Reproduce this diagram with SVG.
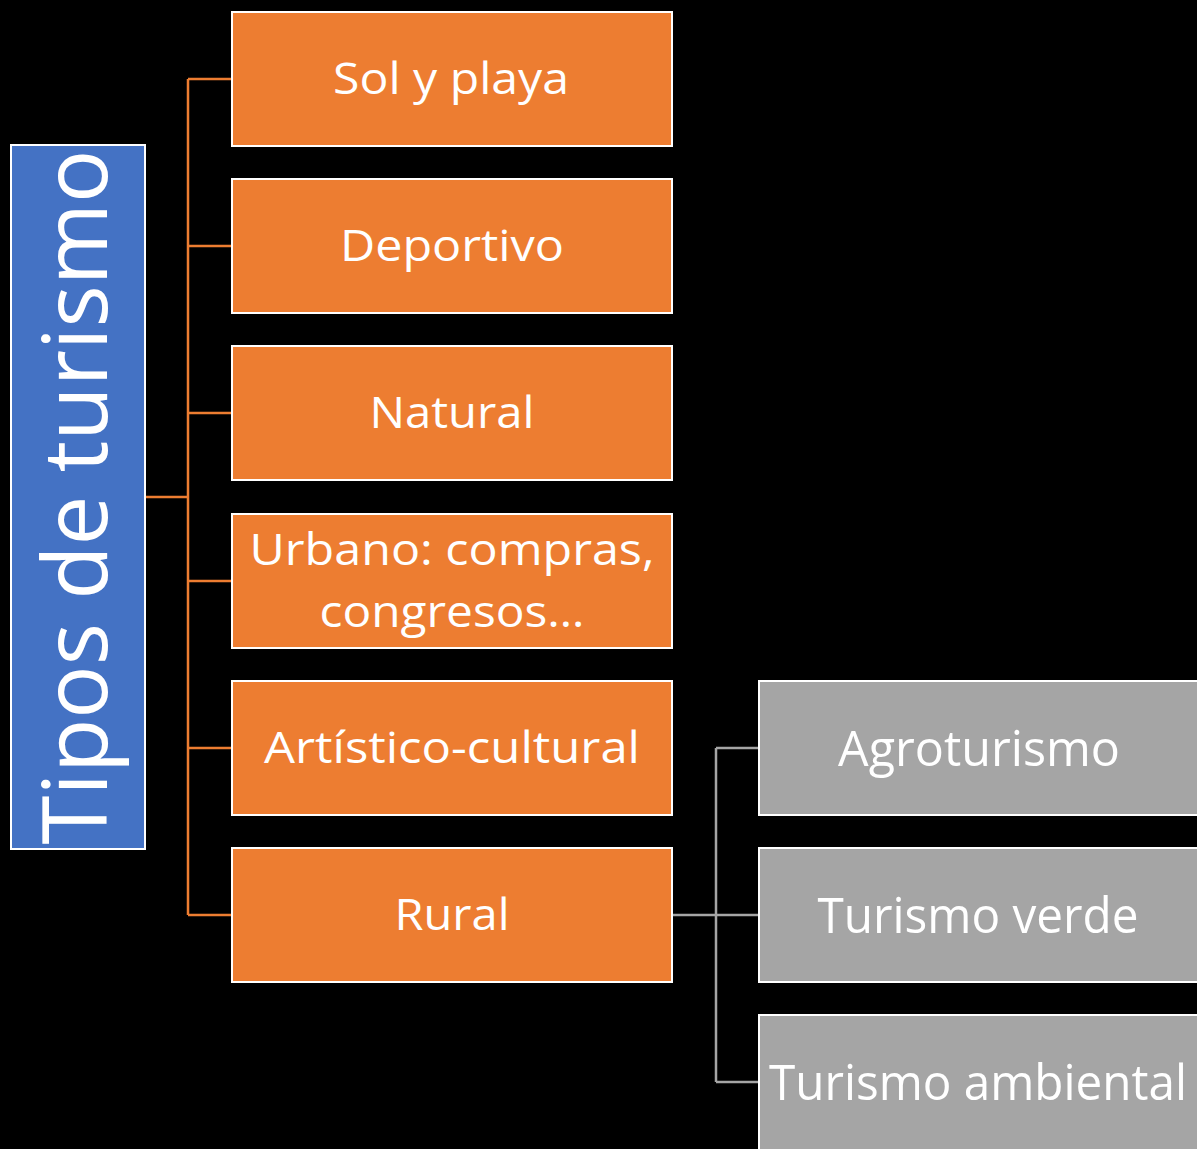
<svg xmlns="http://www.w3.org/2000/svg" width="1197" height="1149" viewBox="0 0 1197 1149">
<style>
.bg{fill:#000}
.root{fill:#4472C4;stroke:#fff;stroke-width:2}
.ob{fill:#ED7D31;stroke:#fff;stroke-width:2}
.gb{fill:#A5A5A5;stroke:#fff;stroke-width:2}
.t{font-family:"Open Sans","Noto Sans","Liberation Sans",sans-serif;fill:#fff;text-anchor:middle}
.ot{font-size:44px}
.gt{font-size:50px}
.oc{stroke:#ED7D31;stroke-width:2.5;fill:none}
.gc{stroke:#A5A5A5;stroke-width:2.5;fill:none}
</style>
<rect class="bg" x="0" y="0" width="1197" height="1149"/>
<g id="connectors">
<path class="oc" d="M145,497 H188 M188,79 V915 M188,79 H232 M188,246 H232 M188,413 H232 M188,581 H232 M188,748 H232 M188,915 H232"/>
<path class="gc" d="M672,915 H759 M716,748 V1082 M716,748 H759 M716,1082 H759"/>
</g>
<g id="root">
<rect class="root" x="11" y="145" width="134" height="704"/>
<text class="t" transform="translate(107,497) rotate(-90)" x="0" y="0" font-size="90" textLength="695" lengthAdjust="spacingAndGlyphs">Tipos de turismo</text>
</g>
<g id="n1">
<rect class="ob" x="232" y="12" width="440" height="134"/>
<text class="t ot" x="451" y="94" textLength="236" lengthAdjust="spacingAndGlyphs">Sol y playa</text>
</g>
<g id="n2">
<rect class="ob" x="232" y="179" width="440" height="134"/>
<text class="t ot" x="452" y="261" textLength="224" lengthAdjust="spacingAndGlyphs">Deportivo</text>
</g>
<g id="n3">
<rect class="ob" x="232" y="346" width="440" height="134"/>
<text class="t ot" x="452" y="428" textLength="165" lengthAdjust="spacingAndGlyphs">Natural</text>
</g>
<g id="n4">
<rect class="ob" x="232" y="514" width="440" height="134"/>
<text class="t ot" x="452" y="565" textLength="405" lengthAdjust="spacingAndGlyphs">Urbano: compras,</text>
<text class="t ot" x="452" y="627" textLength="265" lengthAdjust="spacingAndGlyphs">congresos…</text>
</g>
<g id="n5">
<rect class="ob" x="232" y="681" width="440" height="134"/>
<text class="t ot" x="452" y="763" textLength="376" lengthAdjust="spacingAndGlyphs">Artístico-cultural</text>
</g>
<g id="n6">
<rect class="ob" x="232" y="848" width="440" height="134"/>
<text class="t ot" x="452" y="930" textLength="115" lengthAdjust="spacingAndGlyphs">Rural</text>
</g>
<g id="g1">
<rect class="gb" x="759" y="681" width="440" height="134"/>
<text class="t gt" x="979" y="766" textLength="282" lengthAdjust="spacingAndGlyphs">Agroturismo</text>
</g>
<g id="g2">
<rect class="gb" x="759" y="848" width="440" height="134"/>
<text class="t gt" x="978" y="933" textLength="321" lengthAdjust="spacingAndGlyphs">Turismo verde</text>
</g>
<g id="g3">
<rect class="gb" x="759" y="1015" width="440" height="135"/>
<text class="t gt" x="978" y="1100" textLength="418" lengthAdjust="spacingAndGlyphs">Turismo ambiental</text>
</g>
</svg>
